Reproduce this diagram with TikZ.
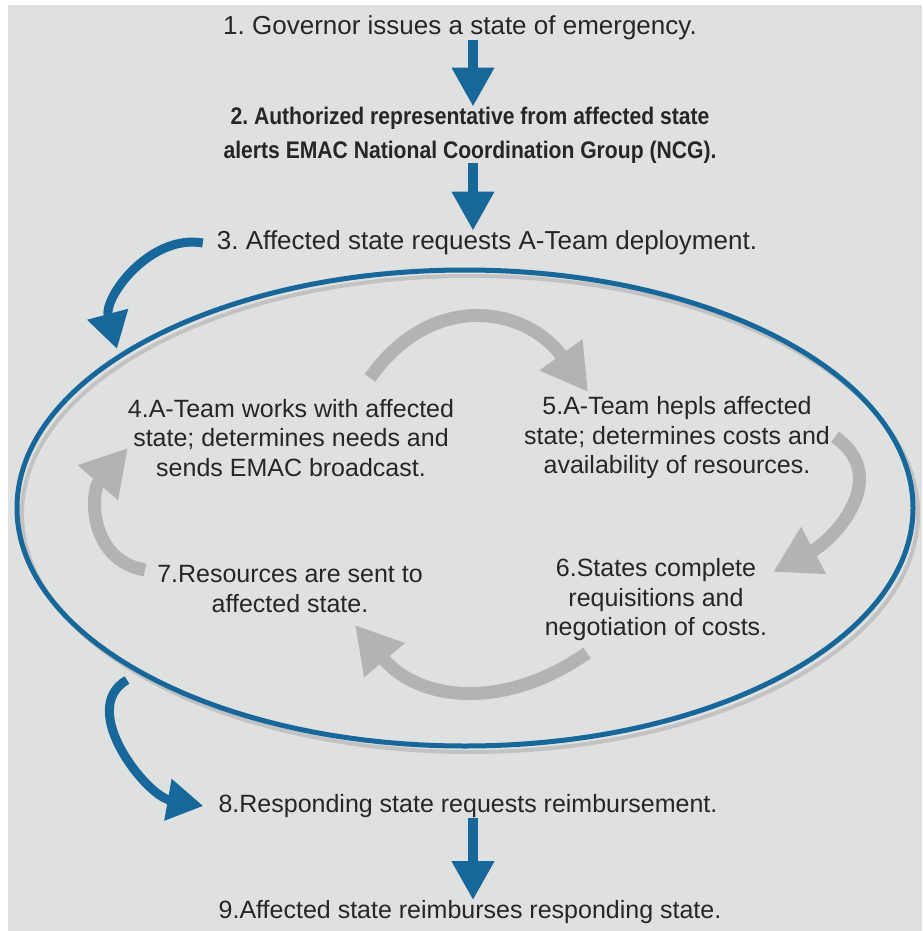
\documentclass[tikz,border=0pt]{standalone}
\usepackage{fontspec}
\setmainfont{Liberation Sans}
\newfontfamily\condbold[FakeStretch=0.88]{Liberation Sans Bold}
\usetikzlibrary{%
	positioning,
	arrows.meta,
	shapes.geometric
}
\definecolor{emacblue}{HTML}{17679A}
\definecolor{loopgray}{HTML}{B2B4B4}
\definecolor{panel}{HTML}{DFE0E0}
\definecolor{ink}{HTML}{262626}
\frenchspacing

\begin{document}
\begin{tikzpicture}[x=1pt,y=-1pt,
		stepnode/.style={font=\fontsize{25}{29.5}\selectfont,text=ink,align=center,inner sep=0pt},
		stepwide/.style={stepnode,font=\fontsize{26}{30}\selectfont},
		stepbold/.style={stepnode,font=\fontsize{24}{34}\selectfont\condbold},
		downarrow/.style={draw=emacblue,line width=10pt,-{Triangle[width=40pt,length=39pt]}},
		swingarrow/.style={draw=emacblue,line width=9pt,-{Triangle[width=40pt,length=36pt]}},
		loopstep/.style={draw=loopgray,line width=13pt,-{Triangle[width=50pt,length=46pt]}}
	]
	
	\useasboundingbox (0,0) rectangle (922,931);
	\fill[white] (0,0) rectangle (922,931);
	\fill[panel] (8,5) rectangle (922,931);
	
	%outer flow
	\node(S1) [stepwide] at (460,28) {1. Governor issues a state of emergency.};
	\node(S2) [stepbold] at (470,135) {2. Authorized representative from affected state\\alerts EMAC National Coordination Group (NCG).};
	\node(S3) [stepwide] at (487,243) {3. Affected state requests A-Team deployment.};
	\node(S8) [stepnode] at (468,806) {8.Responding state requests reimbursement.};
	\node(S9) [stepnode] at (470,912) {9.Affected state reimburses responding state.};
	\coordinate (ax) at (473,0);
	
	\draw [downarrow] (S1.south -| ax) -- (S2.north -| ax);
	\draw [downarrow] (S2.south -| ax) -- (S3.north -| ax);
	\draw [downarrow] (S8.south -| ax) -- (S9.north -| ax);
	
	%the loop
	\draw [gray!75,line width=4pt,opacity=.45] (470,514) ellipse [x radius=448,y radius=238];
	\node(loop) [draw=emacblue,line width=5pt,ellipse,minimum width=896pt,minimum height=476pt,inner sep=0pt] at (465,508) {};
	
	\coordinate (a3-end) at (117,349);
	\coordinate (a8-start) at (127,680);
	\draw [swingarrow] ([xshift=-14pt]S3.west) to[out=170,in=105] (a3-end);
	\draw [swingarrow] (a8-start) to[out=210,in=170] ([xshift=-15pt]S8.west);
	
	\node(S4) [stepnode] at (291,438) {4.A-Team works with affected\\state; determines needs and\\sends EMAC broadcast.};
	\node(S5) [stepnode] at (677,438) {5.A-Team hepls affected\\state; determines costs and\\availability of resources.};
	\node(S6) [stepnode] at (656,600) {6.States complete\\requisitions and\\negotiation of costs.};
	\node(S7) [stepnode] at (290,589) {7.Resources are sent to\\affected state.};
	
	\coordinate (a45-s) at (370,378);
	\coordinate (a45-e) at (588,392);
	\coordinate (a56-s) at (835,437);
	\coordinate (a56-e) at (773,572);
	\coordinate (a67-s) at (587,653);
	\coordinate (a67-e) at (355,625);
	\coordinate (a74-s) at (145,570);
	\coordinate (a74-e) at (128,448);
	\draw [loopstep] (a45-s) to[out=55,in=126,looseness=1.25] (a45-e);
	\draw [loopstep] (a56-s) to[out=-35,in=28,looseness=1.2] (a56-e);
	\draw [loopstep] (a67-s) to[out=215,in=-50,looseness=1.1] (a67-e);
	\draw [loopstep] (a74-s) to[out=170,in=-131,looseness=1.2] (a74-e);
	
\end{tikzpicture}
\end{document}
